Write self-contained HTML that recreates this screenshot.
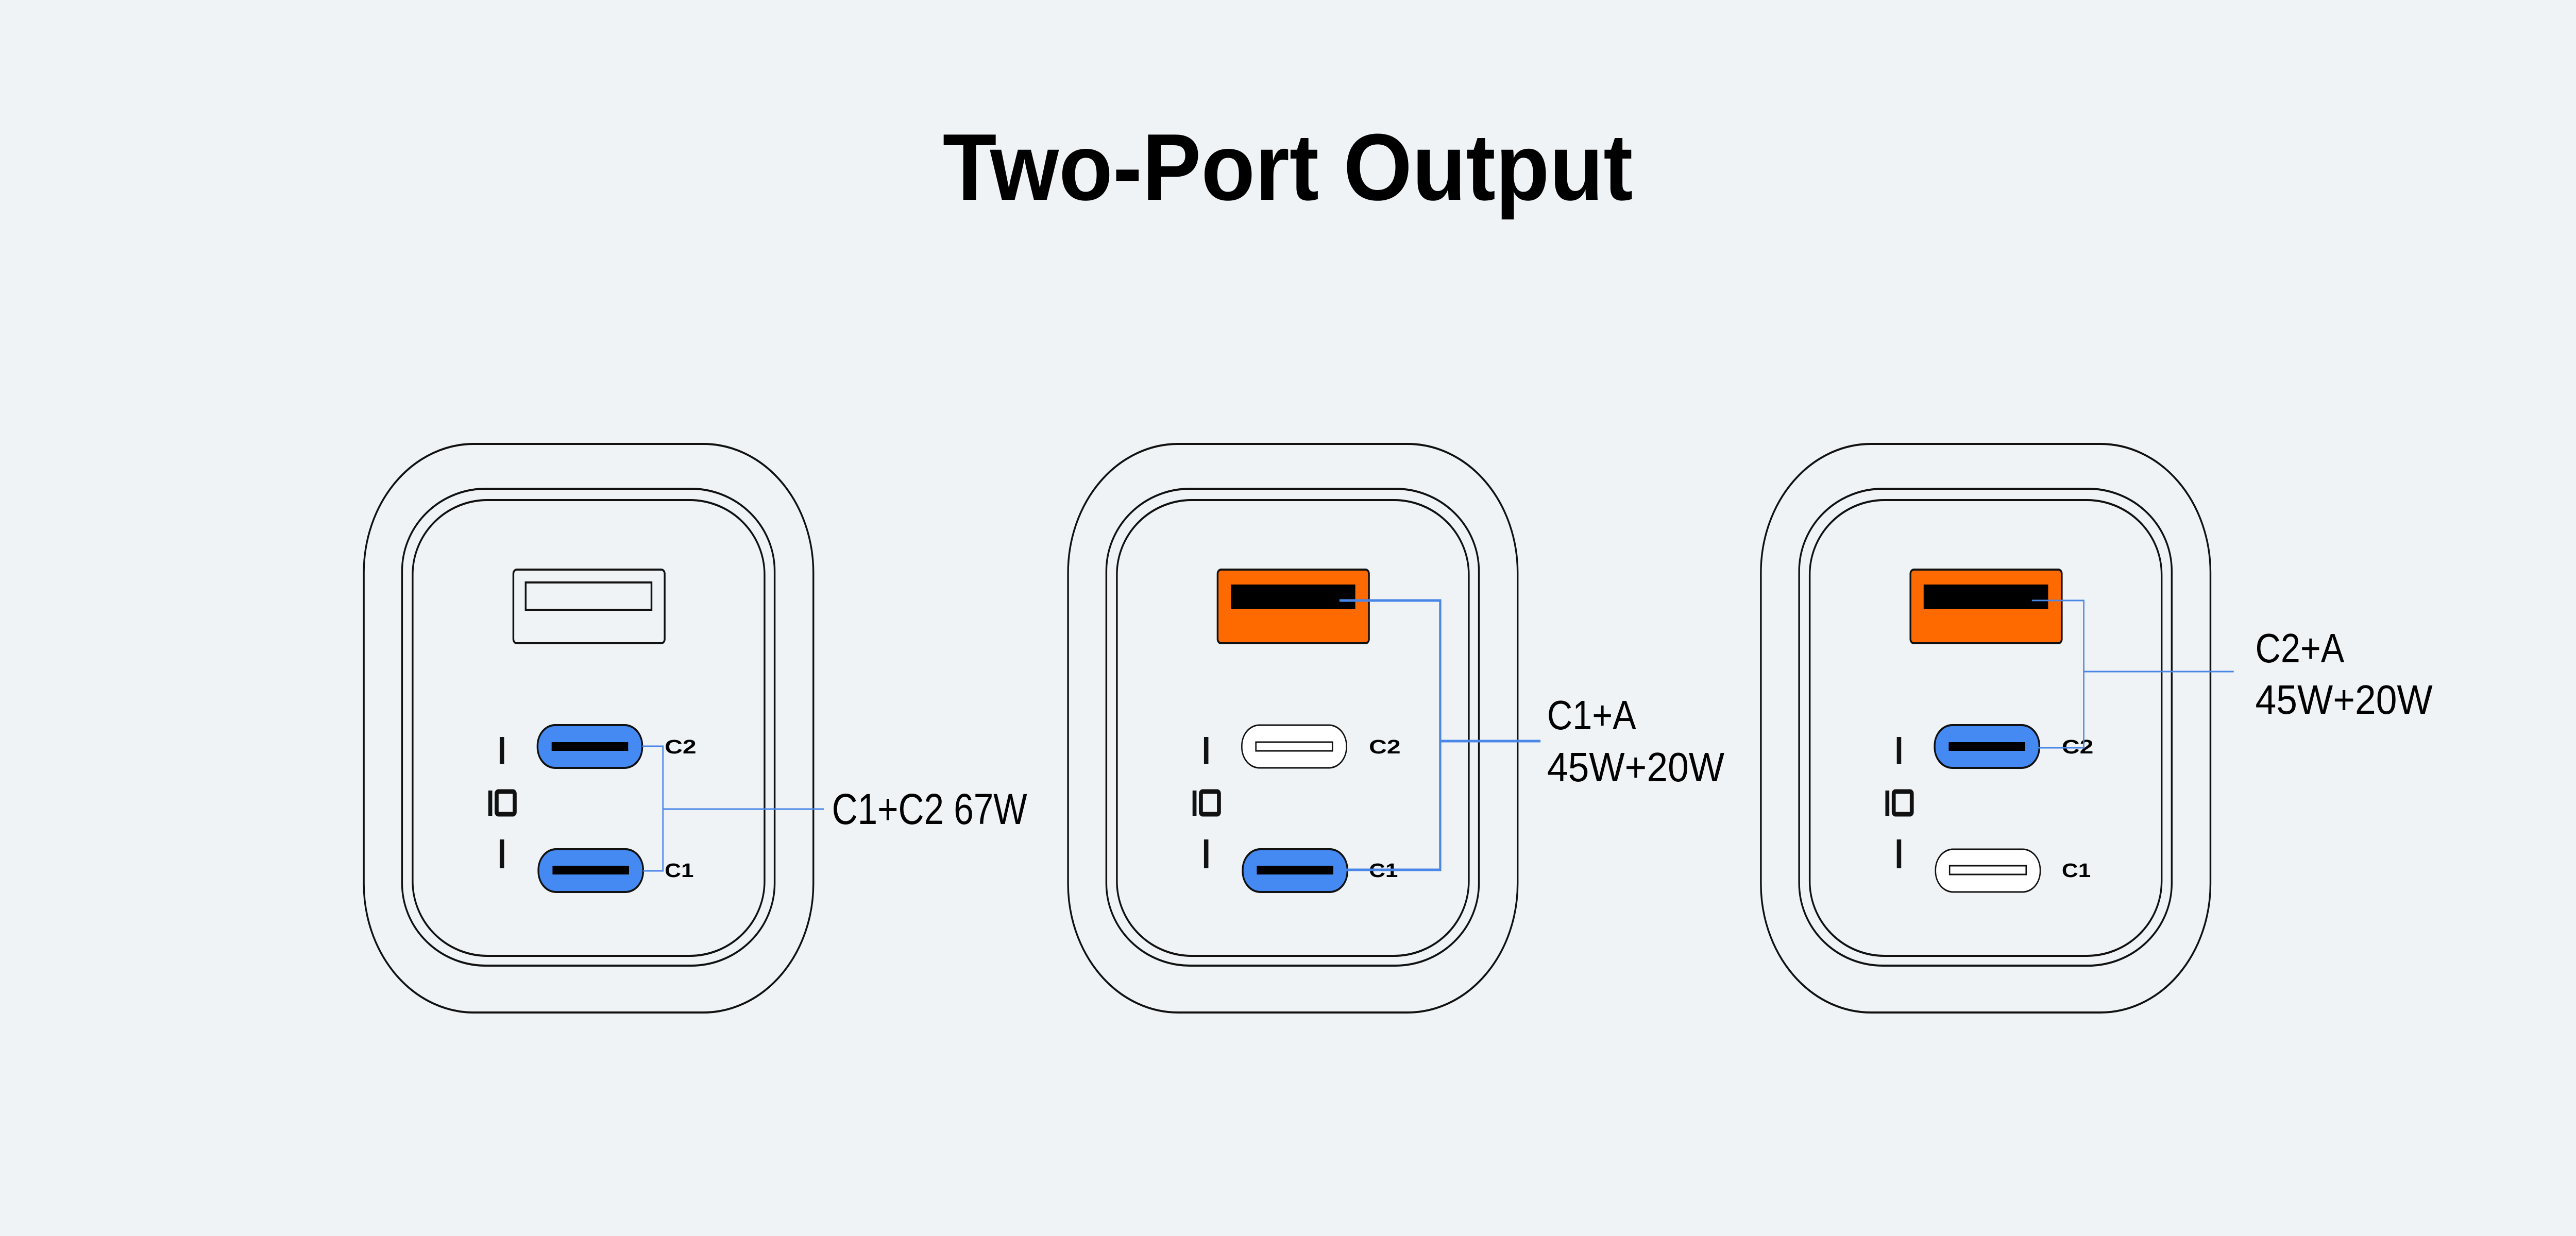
<!DOCTYPE html>
<html><head><meta charset="utf-8"><style>
html,body{margin:0;padding:0;background:#eff3f6;overflow:hidden;width:100%;height:100%;}
svg{display:block;width:100vw;height:100vh;}
text{font-family:"Liberation Sans",sans-serif;}
</style></head><body>
<svg viewBox="0 0 5856 2400" preserveAspectRatio="none" xmlns="http://www.w3.org/2000/svg">
<rect width="5856" height="2400" fill="#eff3f6"/>
<text x="2143" y="388" font-size="184" font-weight="bold" textLength="1569" lengthAdjust="spacingAndGlyphs" fill="#000">Two-Port Output</text>

<defs>
<g id="body" fill="none" stroke="#111" stroke-width="4">
  <rect x="827" y="862" width="1022" height="1104" rx="250" ry="250"/>
  <rect x="914" y="949" width="847" height="926" rx="190" ry="160"/>
  <rect x="938" y="971" width="800" height="885" rx="170" ry="145"/>
  <rect x="1136" y="1431" width="10" height="52" fill="#111" stroke="none"/>
  <rect x="1136" y="1630" width="10" height="56" fill="#111" stroke="none"/>
  <rect x="1110" y="1535" width="9" height="49" fill="#111" stroke="none"/>
  <rect x="1129" y="1537" width="41" height="44" stroke-width="9" rx="4"/>
</g>
</defs>

<!-- Charger 1 -->
<g>
<use href="#body"/>
<rect x="1167" y="1106" width="344" height="143" rx="8" fill="none" stroke="#111" stroke-width="4"/>
<rect x="1195" y="1131" width="286" height="53" fill="none" stroke="#111" stroke-width="4"/>
<rect x="1222" y="1408" width="238" height="83" rx="40" fill="#4589f3" stroke="#111" stroke-width="4"/>
<rect x="1254" y="1441" width="174" height="17" fill="#000"/>
<rect x="1224" y="1649" width="238" height="83" rx="40" fill="#4589f3" stroke="#111" stroke-width="4"/>
<rect x="1256" y="1681" width="174" height="17" fill="#000"/>
<text x="1511" y="1463" font-size="38" font-weight="bold" textLength="72" lengthAdjust="spacingAndGlyphs">C2</text>
<text x="1511" y="1703" font-size="38" font-weight="bold" textLength="66" lengthAdjust="spacingAndGlyphs">C1</text>
<polyline points="1460,1449 1507,1449 1507,1691 1462,1691" fill="none" stroke="#4a86e8" stroke-width="3"/>
<line x1="1507" y1="1571" x2="1873" y2="1571" stroke="#4a86e8" stroke-width="3"/>
<text x="1891" y="1600" font-size="84" textLength="444" lengthAdjust="spacingAndGlyphs">C1+C2 67W</text>
</g>

<!-- Charger 2 -->
<g transform="translate(1601,0)">
<use href="#body"/>
<rect x="1167" y="1106" width="344" height="143" rx="8" fill="#ff6a00" stroke="#111" stroke-width="4"/>
<rect x="1197" y="1135" width="283" height="48" fill="#000"/>
<rect x="1222" y="1408" width="238" height="83" rx="40" fill="#fff" stroke="#111" stroke-width="3"/>
<rect x="1254" y="1441" width="174" height="17" fill="none" stroke="#111" stroke-width="3"/>
<rect x="1224" y="1649" width="238" height="83" rx="40" fill="#4589f3" stroke="#111" stroke-width="4"/>
<rect x="1256" y="1681" width="174" height="17" fill="#000"/>
<text x="1511" y="1463" font-size="38" font-weight="bold" textLength="72" lengthAdjust="spacingAndGlyphs">C2</text>
<text x="1511" y="1703" font-size="38" font-weight="bold" textLength="66" lengthAdjust="spacingAndGlyphs">C1</text>
<polyline points="1444,1166 1673,1166 1673,1689 1460,1689" fill="none" stroke="#4a86e8" stroke-width="5"/>
<line x1="1673" y1="1439" x2="1901" y2="1439" stroke="#4a86e8" stroke-width="5"/>
<text x="1916" y="1416" font-size="80">C1+A</text>
<text x="1916" y="1517" font-size="80" textLength="403" lengthAdjust="spacingAndGlyphs">45W+20W</text>
</g>

<!-- Charger 3 -->
<g transform="translate(3176,0)">
<use href="#body"/>
<rect x="1167" y="1106" width="344" height="143" rx="8" fill="#ff6a00" stroke="#111" stroke-width="4"/>
<rect x="1197" y="1135" width="283" height="48" fill="#000"/>
<rect x="1222" y="1408" width="238" height="83" rx="40" fill="#4589f3" stroke="#111" stroke-width="4"/>
<rect x="1254" y="1441" width="174" height="17" fill="#000"/>
<rect x="1224" y="1649" width="238" height="83" rx="40" fill="#fff" stroke="#111" stroke-width="3"/>
<rect x="1256" y="1681" width="174" height="17" fill="none" stroke="#111" stroke-width="3"/>
<text x="1511" y="1463" font-size="38" font-weight="bold" textLength="72" lengthAdjust="spacingAndGlyphs">C2</text>
<text x="1511" y="1703" font-size="38" font-weight="bold" textLength="66" lengthAdjust="spacingAndGlyphs">C1</text>
<polyline points="1443,1166 1561,1166 1561,1452 1455,1452" fill="none" stroke="#4a86e8" stroke-width="3"/>
<line x1="1561" y1="1304" x2="1902" y2="1304" stroke="#4a86e8" stroke-width="3"/>
<text x="1951" y="1286" font-size="80">C2+A</text>
<text x="1951" y="1386" font-size="80" textLength="403" lengthAdjust="spacingAndGlyphs">45W+20W</text>
</g>
</svg>
</body></html>
